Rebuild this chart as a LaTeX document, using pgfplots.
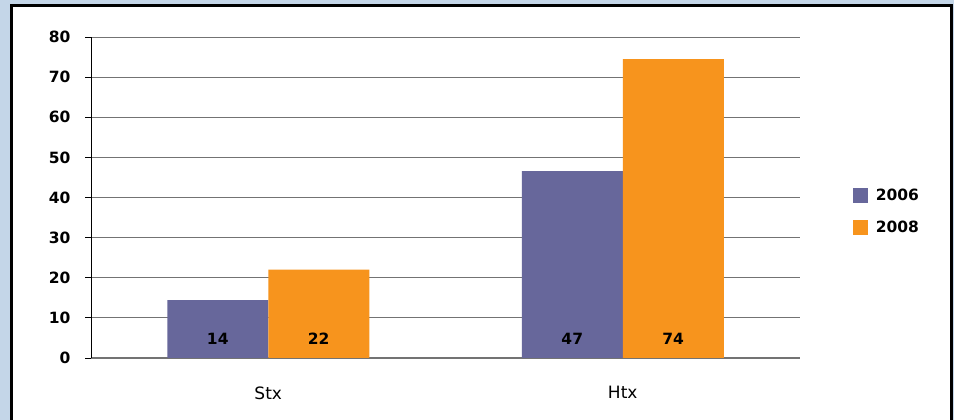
\documentclass[border=0pt]{standalone}
\usepackage{pgfplots}
\pgfplotsset{compat=1.18}
\usepackage{fontspec}
\setmainfont{DejaVu Sans}
\definecolor{cpurple}{RGB}{103,103,155}
\definecolor{corange}{RGB}{247,148,29}
\definecolor{bgblue}{RGB}{196,214,232}
\begin{document}
\begin{tikzpicture}[x=1pt,y=1pt]
\useasboundingbox (0,0) rectangle (954,420);
\fill[bgblue] (0,0) rectangle (954,420);
\filldraw[fill=white, draw=black, line width=3pt] (11.5,-10) rectangle (951.5,414.5);
\begin{axis}[
  at={(91pt,62pt)}, anchor=south west,
  width=709pt, height=321pt, scale only axis,
  xmin=0, xmax=2, ymin=0, ymax=80,
  axis x line=bottom, axis y line=left,
  axis line style={-},
  x axis line style={black!55, line width=1pt},
  y axis line style={black, line width=0.8pt},
  ytick={0,10,...,80},
  ymajorgrids, grid style={black!55, line width=0.9pt},
  tick align=outside, major tick length=6pt,
  tick style={black, line width=0.8pt},
  xtick={0.5,1.5}, xticklabels={Stx,Htx},
  xtick style={draw=none},
  extra x ticks={0,1,2}, extra x tick labels={},
  extra x tick style={major tick length=7pt, tick style={black, line width=0.8pt}},
  /pgf/number format/assume math mode=true,
  yticklabel style={font=\bfseries\fontsize{15.5}{19}\selectfont, xshift=-11pt},
  xticklabel style={font=\fontsize{17}{20}\selectfont, yshift=-19pt},
  legend style={at={(1.07,0.455)}, anchor=west, draw=none, fill=none,
    font=\bfseries\fontsize{15.5}{19}\selectfont, row sep=15pt,
    /tikz/every odd column/.append style={column sep=6pt}},
  legend image code/.code={\path[#1,draw=none] (0pt,-7.5pt) rectangle (15pt,7.5pt);},
  legend cell align=left,
  clip=false,
]
\addplot[ybar, bar width=101pt, bar shift=-50.5pt, fill=cpurple, draw=none]
  coordinates {(0.5,14.4) (1.5,46.6)};
\addlegendentry{2006}
\addplot[ybar, bar width=101pt, bar shift=50.5pt, fill=corange, draw=none]
  coordinates {(0.5,22.0) (1.5,74.5)};
\addlegendentry{2008}
\addplot[only marks, mark=none, forget plot,
  nodes near coords, point meta=explicit symbolic,
  every node near coord/.append style={anchor=center, font=\bfseries\fontsize{15.5}{19}\selectfont}]
  coordinates {(0.3576,4.7)[14] (1.3576,4.7)[47] (0.6424,4.7)[22] (1.6424,4.7)[74]};
\end{axis}
\end{tikzpicture}
\end{document}
